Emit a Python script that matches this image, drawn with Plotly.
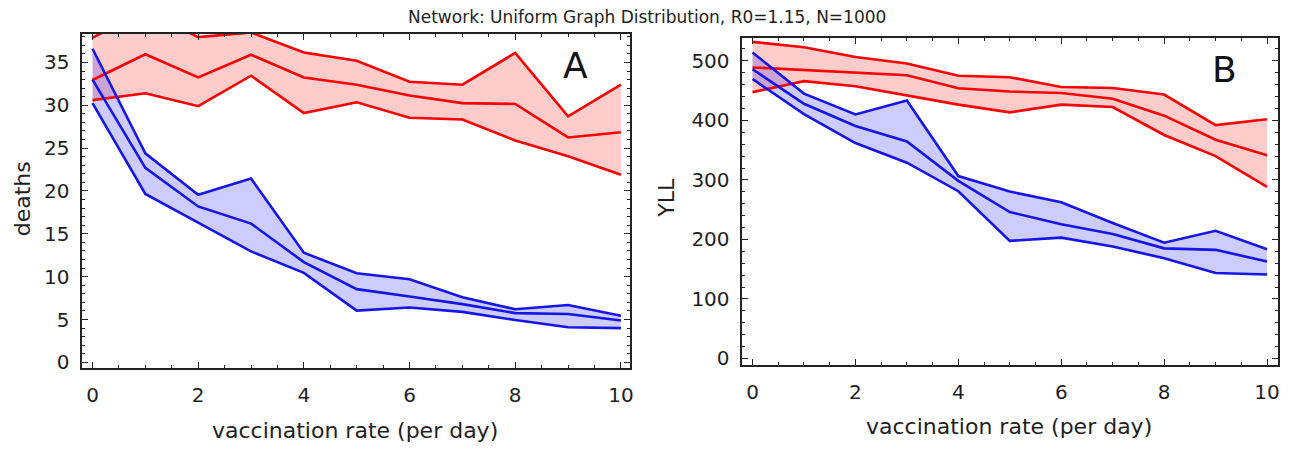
import plotly.graph_objects as go

# ---------------- data ----------------
rate = [0, 1, 2, 3, 4, 5, 6, 7, 8, 9, 10]

# Panel A: deaths
deaths_red_hi = [37.9, 41.0, 37.95, 38.5, 36.15, 35.2, 32.75, 32.4, 36.1, 28.7, 32.4]
deaths_red_mid = [32.95, 35.95, 33.25, 35.9, 33.25, 32.4, 31.15, 30.25, 30.15, 26.25, 26.85]
deaths_red_lo = [30.6, 31.4, 29.9, 33.45, 29.1, 30.35, 28.55, 28.35, 25.9, 24.05, 21.9]
deaths_blue_hi = [36.6, 24.4, 19.55, 21.45, 12.8, 10.4, 9.7, 7.6, 6.2, 6.7, 5.45]
deaths_blue_mid = [33.0, 22.7, 18.2, 16.2, 11.7, 8.55, 7.7, 6.8, 5.75, 5.65, 4.9]
deaths_blue_lo = [30.25, 19.65, 16.3, 12.95, 10.45, 6.05, 6.4, 5.9, 4.95, 4.1, 4.0]

# Panel B: YLL
yll_red_hi = [532, 523, 506.5, 495.5, 475, 472.5, 456, 454.5, 443.5, 392, 402]
yll_red_mid = [489, 484.5, 479.5, 476, 454, 448.5, 446, 436.5, 408, 367.5, 341.5]
yll_red_lo = [447.5, 466, 457.5, 442, 426.5, 413.5, 426.5, 422.5, 375.5, 340, 288.5]
yll_blue_hi = [514, 445, 410, 433.5, 306.5, 280.5, 262.5, 227.5, 194.5, 214.5, 183.5]
yll_blue_mid = [486, 428, 390.5, 364.5, 298.5, 246, 225.5, 209, 185, 182.5, 163]
yll_blue_lo = [469.5, 410.5, 362, 329, 281, 197.5, 203, 188, 168.5, 143.5, 141]

title_text = "Network: Uniform Graph Distribution, R0=1.15, N=1000"
x_title = "vaccination rate (per day)"
y_title_a = "deaths"
y_title_b = "YLL"
x_ticks = [0, 2, 4, 6, 8, 10]

# ---------------- style ----------------
FONT = "DejaVu Sans"
TXT = "#1e1e1e"
RED = "rgb(255,0,0)"
BLUE = "rgb(20,20,235)"
RED_FILL = "rgba(255,0,0,0.2)"
BLUE_FILL = "rgba(0,0,255,0.2)"
LW = 2.6

fig = go.Figure()


def add_band(xa, ya, lo, hi, fillcol):
    fig.add_trace(go.Scatter(x=rate, y=lo, mode="lines", line=dict(width=0, color=fillcol),
                             xaxis=xa, yaxis=ya, showlegend=False, hoverinfo="skip"))
    fig.add_trace(go.Scatter(x=rate, y=hi, mode="lines", line=dict(width=0, color=fillcol),
                             fill="tonexty", fillcolor=fillcol,
                             xaxis=xa, yaxis=ya, showlegend=False, hoverinfo="skip"))


def add_line(xa, ya, vals, col):
    fig.add_trace(go.Scatter(x=rate, y=vals, mode="lines", line=dict(width=LW, color=col),
                             xaxis=xa, yaxis=ya, showlegend=False))


# fills first
add_band("x", "y", deaths_red_lo, deaths_red_hi, RED_FILL)
add_band("x", "y", deaths_blue_lo, deaths_blue_hi, BLUE_FILL)
add_band("x2", "y2", yll_red_lo, yll_red_hi, RED_FILL)
add_band("x2", "y2", yll_blue_lo, yll_blue_hi, BLUE_FILL)

# lines on top
for vals in (deaths_red_hi, deaths_red_mid, deaths_red_lo):
    add_line("x", "y", vals, RED)
for vals in (deaths_blue_hi, deaths_blue_mid, deaths_blue_lo):
    add_line("x", "y", vals, BLUE)
for vals in (yll_red_hi, yll_red_mid, yll_red_lo):
    add_line("x2", "y2", vals, RED)
for vals in (yll_blue_hi, yll_blue_mid, yll_blue_lo):
    add_line("x2", "y2", vals, BLUE)

W, H = 1296, 451

axis_common = dict(
    showline=True, linecolor="#222", linewidth=2, mirror="allticks",
    ticks="inside", ticklen=6, tickwidth=1.4, tickcolor="#222",
    showgrid=False, zeroline=False,
    tickfont=dict(family=FONT, size=20, color=TXT),
)

fig.update_layout(
    width=W, height=H,
    margin=dict(l=0, r=0, t=0, b=0),
    paper_bgcolor="white", plot_bgcolor="white",
    showlegend=False,
    xaxis=dict(domain=[81.7 / W, 631.7 / W], range=[-0.208, 10.177],
               tickvals=x_ticks, anchor="y", ticklabelstandoff=8,
               minor=dict(dtick=0.5, ticks="inside", ticklen=3, tickwidth=1.2, tickcolor="#222"),
               **axis_common),
    yaxis=dict(domain=[(H - 373.3) / H, (H - 34) / H], range=[-0.69, 38.37],
               dtick=5, tick0=0, anchor="x", ticklabelstandoff=6,
               minor=dict(dtick=1, ticks="inside", ticklen=3, tickwidth=1.2, tickcolor="#222"),
               **axis_common),
    xaxis2=dict(domain=[743.3 / W, 1280.7 / W], range=[-0.213, 10.208],
                tickvals=x_ticks, anchor="y2", ticklabelstandoff=8,
                minor=dict(dtick=0.5, ticks="inside", ticklen=3, tickwidth=1.2, tickcolor="#222"),
                **axis_common),
    yaxis2=dict(domain=[(H - 370) / H, (H - 38.3) / H], range=[-11.1, 538.8],
                dtick=100, tick0=0, anchor="x2", ticklabelstandoff=6,
                minor=dict(dtick=20, ticks="inside", ticklen=3, tickwidth=1.2, tickcolor="#222"),
                **axis_common),
)

ann = []
ann.append(dict(text=title_text, x=648 / W, y=(H - 17) / H, xref="paper", yref="paper",
                showarrow=False, xanchor="center", yanchor="middle",
                font=dict(family=FONT, size=17, color=TXT)))
ann.append(dict(text=x_title, x=356 / W, y=(H - 436) / H, xref="paper", yref="paper",
                showarrow=False, xanchor="center", yanchor="middle",
                font=dict(family=FONT, size=22, color=TXT)))
ann.append(dict(text=x_title, x=1011 / W, y=(H - 432) / H, xref="paper", yref="paper",
                showarrow=False, xanchor="center", yanchor="middle",
                font=dict(family=FONT, size=22, color=TXT)))
ann.append(dict(text=y_title_a, x=22 / W, y=(H - 201) / H, xref="paper", yref="paper",
                showarrow=False, xanchor="center", yanchor="middle", textangle=-90,
                font=dict(family=FONT, size=22, color=TXT)))
ann.append(dict(text=y_title_b, x=668 / W, y=(H - 200) / H, xref="paper", yref="paper",
                showarrow=False, xanchor="center", yanchor="middle", textangle=-90,
                font=dict(family=FONT, size=22, color=TXT)))
ann.append(dict(text="A", x=577 / W, y=(H - 66.5) / H, xref="paper", yref="paper",
                showarrow=False, xanchor="center", yanchor="middle",
                font=dict(family=FONT, size=36, color="#111")))
ann.append(dict(text="B", x=1227.5 / W, y=(H - 70) / H, xref="paper", yref="paper",
                showarrow=False, xanchor="center", yanchor="middle",
                font=dict(family=FONT, size=36, color="#111")))
fig.update_layout(annotations=ann)

fig.write_html("out.html", config={"displayModeBar": False})
